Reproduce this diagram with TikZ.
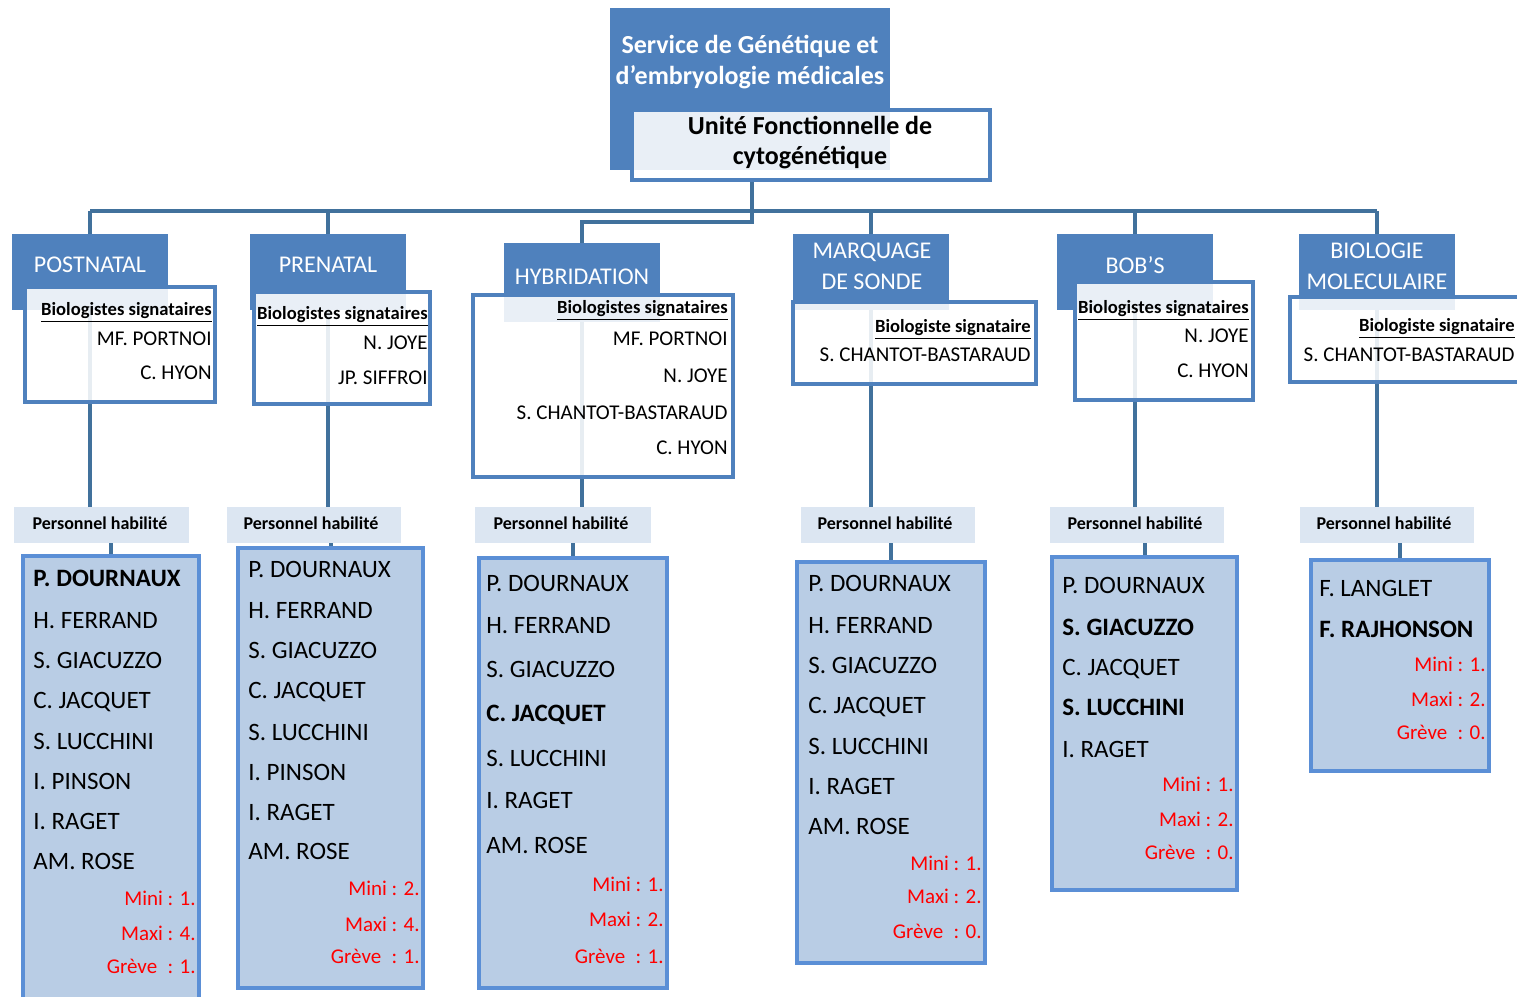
\documentclass[tikz,border=0pt]{standalone}
\usepackage{fontspec}
\setmainfont{Carlito}
\usetikzlibrary{fit}
\pgfdeclarelayer{bg}
\pgfsetlayers{bg,main}
\definecolor{hdrblue}{HTML}{4F81BD}
\definecolor{connblue}{HTML}{41719C}
\definecolor{lstfill}{HTML}{B9CDE5}
\definecolor{lstdraw}{HTML}{5B8FD6}
\definecolor{persfill}{HTML}{DCE6F2}
\definecolor{redtxt}{HTML}{FF0000}
\tikzset{
  hdrbox/.style={fill=hdrblue, inner sep=0pt},
  wbox/.style={draw=hdrblue, line width=1.6pt, fill=white, fill opacity=0.88, inner sep=0pt},
  persbox/.style={fill=persfill, inner sep=0pt},
  lstbox/.style={fill=lstfill, draw=lstdraw, line width=2pt, inner sep=0pt},
  conn/.style={draw=connblue, line width=2pt},
  hdrtxt/.style={text=white, font=\fontsize{12}{15.5}\selectfont, align=center, inner sep=0pt},
  titletxt/.style={font=\bfseries\fontsize{13}{15}\selectfont, align=center, inner sep=0pt},
  lname/.style={anchor=west, inner sep=0pt, text height=8pt, text depth=0pt, font=\fontsize{12.5}{14}\selectfont},
  rname/.style={anchor=east, inner sep=0pt, text height=6.7pt, text depth=0pt, font=\fontsize{10.5}{12}\selectfont},
  btitle/.style={anchor=east, inner sep=0pt, text height=6pt, text depth=0pt, font=\bfseries\fontsize{9.3}{10}\selectfont},
  ptxt/.style={inner sep=0pt, text height=5.8pt, text depth=0pt, font=\bfseries\fontsize{9}{10}\selectfont},
  rtxt/.style={anchor=east, inner sep=0pt, text height=6.8pt, text depth=0pt, text=redtxt, font=\fontsize{10.5}{12}\selectfont},
}
\newcommand\staffcol[3]{\foreach \y/\t [count=\i] in {#3} \node[lname] (n#1\i) at (#2,\y) {\t};}
\newcommand\quotacol[3]{\foreach \y/\t [count=\i] in {#3} \node[rtxt] (r#1\i) at (#2,\y) {\t};}
\newcommand\biolcol[3]{\foreach \y/\t [count=\i] in {#3} \node[rname] (b#1\i) at (#2,\y) {\t};}
\begin{document}
\begin{tikzpicture}[x=0.5pt,y=-0.5pt]
\useasboundingbox (0,0) rectangle (1517,997);
% top
\node[hdrbox, fit={(610,8) (890,170)}] (serv) {};
\node[hdrtxt] (servt) at (750,62.5) {\bfseries\fontsize{13}{15.5}\selectfont Service de Génétique et\\ \bfseries\fontsize{13}{15.5}\selectfont d’embryologie médicales};
\node[wbox, fit={(632,110) (990,180)}] (unit) {};
\node[titletxt] (unitt) at (810,143) {Unité Fonctionnelle de\\cytogénétique};
\coordinate (bus) at (752,211);
% header boxes
\node[hdrbox, fit={(12,234) (168,310)}] (h1) {};
\node[hdrbox, fit={(250,234) (406,310)}] (h2) {};
\node[hdrbox, fit={(504,243) (660,322)}] (h3) {};
\node[hdrbox, fit={(793,234) (949,310)}] (h4) {};
\node[hdrbox, fit={(1057,234) (1213,310)}] (h5) {};
\node[hdrbox, fit={(1299,234) (1455,310)}] (h6) {};
\node[hdrtxt] (h1t) at (90,265) {POSTNATAL};
\node[hdrtxt] (h2t) at (328,265) {PRENATAL};
\node[hdrtxt] (h3t) at (582,277) {HYBRIDATION};
\node[hdrtxt] (h4t) at (872,266.5) {MARQUAGE\\DE SONDE};
\node[hdrtxt] (h5t) at (1135,265) {BOB’S};
\node[hdrtxt] (h6t) at (1377,266.5) {BIOLOGIE\\MOLECULAIRE};
% biologist boxes
\node[wbox, fit={(25,287) (215,402)}] (bio1) {};
\node[wbox, fit={(254,292) (430,404)}] (bio2) {};
\node[wbox, fit={(473,295) (733,477)}] (bio3) {};
\node[wbox, fit={(793,302) (1036,384)}] (bio4) {};
\node[wbox, fit={(1075,282) (1253,400)}] (bio5) {};
\node[wbox, fit={(1290,297) (1530,382)}] (bio6) {};
\node[btitle] (bt1) at (212,309) {\underline{Biologistes signataires}};
\node[btitle] (bt2) at (428,313) {\underline{Biologistes signataires}};
\node[btitle] (bt3) at (728,307) {\underline{Biologistes signataires}};
\node[btitle] (bt4) at (1031,326) {\underline{Biologiste signataire}};
\node[btitle] (bt5) at (1249,307) {\underline{Biologistes signataires}};
\node[btitle] (bt6) at (1515,325) {\underline{Biologiste signataire}};
\biolcol{a}{212}{339/MF. PORTNOI, 373/C. HYON}
\biolcol{b}{428}{343/N. JOYE, 378/JP. SIFFROI}
\biolcol{c}{728}{339/MF. PORTNOI, 376/N. JOYE, 413/S. CHANTOT-BASTARAUD, 448/C. HYON}
\biolcol{d}{1031}{355/S. CHANTOT-BASTARAUD}
\biolcol{e}{1249}{336/N. JOYE, 371/C. HYON}
\biolcol{f}{1515}{355/S. CHANTOT-BASTARAUD}
% personnel boxes
\node[persbox, fit={(14,507) (189,543)}] (p1) {};
\node[persbox, fit={(227,507) (401,543)}] (p2) {};
\node[persbox, fit={(475,507) (651,543)}] (p3) {};
\node[persbox, fit={(801,507) (975,543)}] (p4) {};
\node[persbox, fit={(1050,507) (1224,543)}] (p5) {};
\node[persbox, fit={(1300,507) (1474,543)}] (p6) {};
\node[ptxt] (p1t) at (100,524) {Personnel habilité};
\node[ptxt] (p2t) at (311,524) {Personnel habilité};
\node[ptxt] (p3t) at (561,524) {Personnel habilité};
\node[ptxt] (p4t) at (885,524) {Personnel habilité};
\node[ptxt] (p5t) at (1135,524) {Personnel habilité};
\node[ptxt] (p6t) at (1384,524) {Personnel habilité};
% staff lists
\node[lstbox, fit={(23,556) (199,1012)}] (l1) {};
\node[lstbox, fit={(238,548) (423,988)}] (l2) {};
\node[lstbox, fit={(479,558) (667,988)}] (l3) {};
\node[lstbox, fit={(797,562) (985,963)}] (l4) {};
\node[lstbox, fit={(1052,557) (1237,890)}] (l5) {};
\node[lstbox, fit={(1311,560) (1489,771)}] (l6) {};
\staffcol{a}{33}{578/\textbf{P. DOURNAUX}, 620/H. FERRAND, 660/S. GIACUZZO, 700/C. JACQUET, 741/S. LUCCHINI, 781/I. PINSON, 821/I. RAGET, 861/AM. ROSE}
\quotacol{a}{196}{899/Mini : 1., 934/Maxi : 4., 967/Grève\enspace: 1.}
\staffcol{b}{248}{569/P. DOURNAUX, 610/H. FERRAND, 650/S. GIACUZZO, 690/C. JACQUET, 732/S. LUCCHINI, 772/I. PINSON, 812/I. RAGET, 851/AM. ROSE}
\quotacol{b}{420}{889/Mini : 2., 925/Maxi : 4., 957/Grève\enspace: 1.}
\staffcol{c}{486}{583/P. DOURNAUX, 625/H. FERRAND, 669/S. GIACUZZO, 713/\textbf{C. JACQUET}, 758/S. LUCCHINI, 800/I. RAGET, 845/AM. ROSE}
\quotacol{c}{664}{885/Mini : 1., 920/Maxi : 2., 957/Grève\enspace: 1.}
\staffcol{d}{808}{583/P. DOURNAUX, 625/H. FERRAND, 665/S. GIACUZZO, 705/C. JACQUET, 746/S. LUCCHINI, 786/I. RAGET, 826/AM. ROSE}
\quotacol{d}{982}{864/Mini : 1., 897/Maxi : 2., 932/Grève\enspace: 0.}
\staffcol{e}{1062}{585/P. DOURNAUX, 627/\textbf{S. GIACUZZO}, 667/C. JACQUET, 707/\textbf{S. LUCCHINI}, 749/I. RAGET}
\quotacol{e}{1234}{785/Mini : 1., 820/Maxi : 2., 853/Grève\enspace: 0.}
\staffcol{f}{1319}{588/F. LANGLET, 629/\textbf{F. RAJHONSON}}
\quotacol{f}{1486}{665/Mini : 1., 700/Maxi : 2., 733/Grève\enspace: 0.}
% connectors
\begin{pgfonlayer}{bg}
\draw[conn] (unit.south -| bus) -- (bus);
\draw[conn] (h1.north |- bus) -- (h6.north |- bus);
\foreach \k in {1,2,4,5,6} \draw[conn] (h\k.north |- bus) -- (h\k.north);
\draw[conn] (unit.south -| bus) -- ++(0,40) -| (h3.north);
\foreach \k in {1,...,6} {
  \draw[conn] (h\k.south) -- (p\k.north -| h\k.south);
  \draw[conn] (l\k.north |- p\k.south) -- (l\k.north);
}
\end{pgfonlayer}
\end{tikzpicture}
\end{document}
